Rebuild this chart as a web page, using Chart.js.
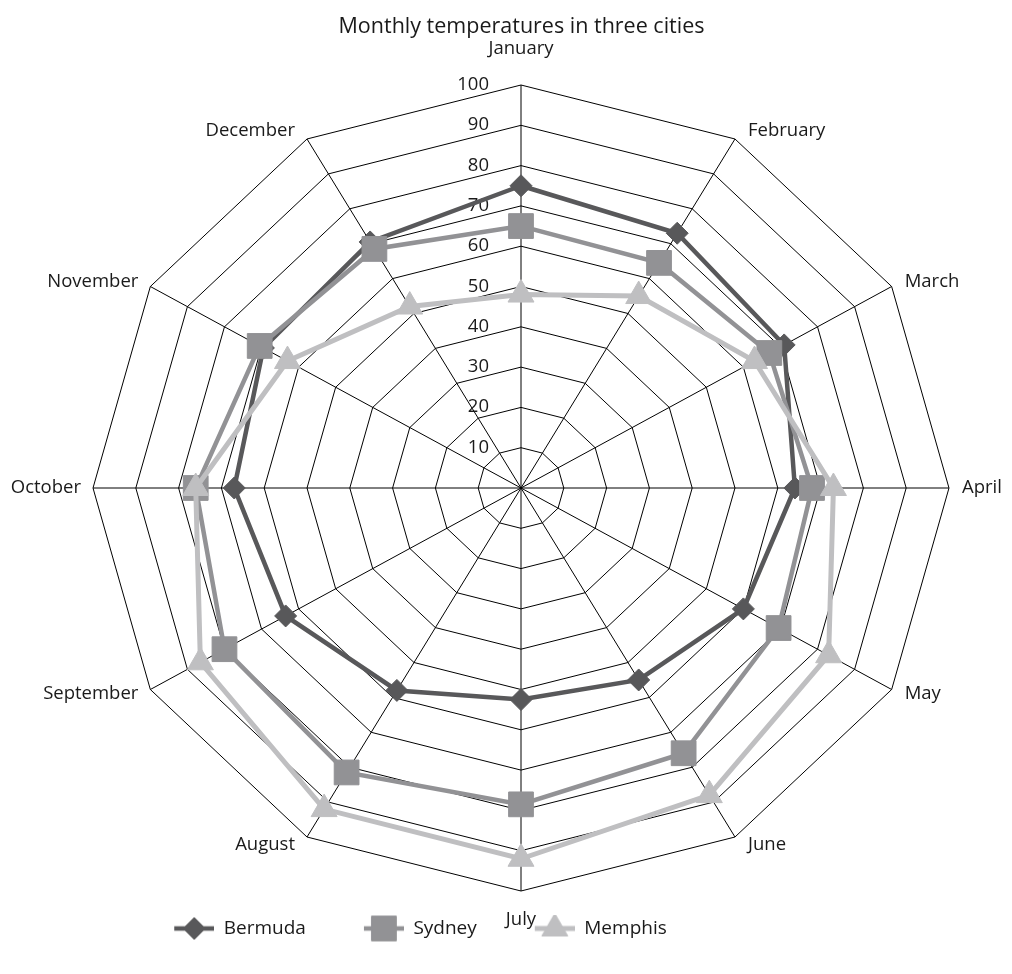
<!DOCTYPE html>
<html>
<head>
<meta charset="utf-8">
<script src="https://cdn.jsdelivr.net/npm/chart.js@4.4.1/dist/chart.umd.min.js"></script>
<style>
html,body{margin:0;padding:0;background:#fff;}
#wrap{width:1012px;height:974px;}
canvas{display:block;}
</style>
</head>
<body>
<div id="wrap"><canvas id="chart" width="1012" height="974"></canvas></div>
<script>
// ---- data ----
const months = ['January','February','March','April','May','June','July','August','September','October','November','December'];
const bermuda = [75, 73, 71, 64, 60, 55, 52.5, 58, 63.5, 67, 69.5, 70.5];
const sydney  = [65, 64.5, 67, 68, 69.5, 76, 78.5, 81.5, 80, 76, 70.5, 68.5];
const memphis = [48, 55, 63, 73, 83, 88, 92, 92, 86.5, 76, 63, 52];
const tickLabels = [10, 20, 30, 40, 50, 60, 70, 80, 90, 100];
const seriesNames = ['Bermuda', 'Sydney', 'Memphis'];
const titleText = 'Monthly temperatures in three cities';

// ---- styling ----
const COLORS = ['#58585a', '#929295', '#bfbfc1'];
const X_STRETCH = 1.062;
const FONT = "'Open Sans', sans-serif";
const LABEL_SIZE = 18.5;

// radial scale with a slightly wider horizontal than vertical radius
class EllipseRadialScale extends Chart.RadialLinearScale {
  getPointPosition(index, distance) {
    const p = super.getPointPosition(index, distance);
    return { x: this.xCenter + (p.x - this.xCenter) * X_STRETCH, y: p.y, angle: p.angle };
  }
}
EllipseRadialScale.id = 'ellipseRadial';
EllipseRadialScale.defaults = Chart.RadialLinearScale.defaults;
Chart.register(EllipseRadialScale);

function legendIcon(color, style, radius, lw) {
  const c = document.createElement('canvas');
  c.width = 70; c.height = 28;
  const g = c.getContext('2d');
  g.strokeStyle = color; g.lineWidth = lw;
  g.beginPath(); g.moveTo(30, 14); g.lineTo(70, 14); g.stroke();
  g.fillStyle = color; g.strokeStyle = color; g.lineWidth = 1;
  Chart.helpers.drawPoint(g, { pointStyle: style, radius: radius, borderWidth: 1, rotation: 0 }, 50, 14);
  return c;
}

const styles = ['rectRot', 'rect', 'triangle'];
const radii = [11, 17.5, 15];
const lineWidths = [4.5, 4.5, 5];
const icons = styles.map((s, i) => legendIcon(COLORS[i], s, radii[i], lineWidths[i]));
const seriesData = [bermuda, sydney, memphis];

const datasets = seriesNames.map((name, i) => ({
  label: name,
  data: seriesData[i],
  borderColor: COLORS[i],
  backgroundColor: COLORS[i],
  borderWidth: lineWidths[i],
  pointStyle: styles[i],
  pointRadius: radii[i],
  pointBackgroundColor: COLORS[i],
  pointBorderColor: COLORS[i],
  pointBorderWidth: 1,
  fill: false,
  tension: 0,
  order: 2 - i
}));

const labelPlugin = {
  id: 'customLabels',
  afterLayout(chart) {
    const lg = chart.legend;
    if (lg) { lg.left -= 116; lg.right -= 116; }
  },
  beforeDatasetsDraw(chart) {
    const s = chart.scales.r;
    const ctx = chart.ctx;
    ctx.save();
    ctx.font = LABEL_SIZE + 'px ' + FONT;
    ctx.fillStyle = '#1a1a1a';
    ctx.textAlign = 'right';
    ctx.textBaseline = 'alphabetic';
    tickLabels.forEach(v => {
      const y = s.yCenter - s.getDistanceFromCenterForValue(v);
      ctx.fillText(String(v), s.xCenter - 32, y + 5);
    });
    ctx.restore();
  },
  afterDraw(chart) {
    const s = chart.scales.r;
    const ctx = chart.ctx;
    ctx.save();
    ctx.font = LABEL_SIZE + 'px ' + FONT;
    ctx.fillStyle = '#1a1a1a';
    ctx.textBaseline = 'alphabetic';
    const n = months.length;
    months.forEach((m, i) => {
      const rim = s.getPointPosition(i, s.drawingArea);
      const theta = 2 * Math.PI * i / n;
      const sn = Math.sin(theta), cs = Math.cos(theta);
      let x, y;
      if (Math.abs(sn) < 1e-6) {
        ctx.textAlign = 'center';
        x = rim.x;
        y = cs > 0 ? rim.y - 31 : rim.y + 33.5;
      } else {
        ctx.textAlign = sn > 0 ? 'left' : 'right';
        x = rim.x + (sn > 0 ? 13 : -12);
        y = rim.y + 5 - 9 * cs;
      }
      ctx.fillText(m, x, y);
    });
    ctx.restore();
  }
};

Chart.defaults.font.family = FONT;
Chart.defaults.color = '#1a1a1a';

new Chart(document.getElementById('chart'), {
  type: 'radar',
  data: { labels: months, datasets: datasets },
  options: {
    responsive: false,
    animation: false,
    events: [],
    layout: { padding: { left: 36, right: 5, top: 0, bottom: 26 } },
    scales: {
      r: {
        type: 'ellipseRadial',
        min: 0,
        max: 100,
        ticks: { stepSize: 10, display: false },
        grid: { color: '#000', lineWidth: 1 },
        angleLines: { display: true, color: '#000', lineWidth: 1 },
        pointLabels: { display: false }
      }
    },
    plugins: {
      tooltip: { enabled: false },
      title: {
        display: true,
        text: titleText,
        color: '#1a1a1a',
        font: { size: 21.5, weight: 'normal', family: FONT, lineHeight: 1.2 },
        padding: { top: 14.3, bottom: 44.9 }
      },
      legend: {
        display: true,
        position: 'bottom',
        align: 'center',
        labels: {
          usePointStyle: true,
          pointStyleWidth: 70,
          padding: 28,
          color: '#1a1a1a',
          font: { size: 19, family: FONT },
          generateLabels(chart) {
            return seriesNames.map((name, i) => ({
              text: name,
              datasetIndex: i,
              pointStyle: icons[i],
              fillStyle: COLORS[i],
              strokeStyle: COLORS[i],
              lineWidth: 0,
              hidden: false,
              fontColor: '#1a1a1a'
            }));
          }
        }
      }
    }
  },
  plugins: [labelPlugin]
});
</script>
</body>
</html>
